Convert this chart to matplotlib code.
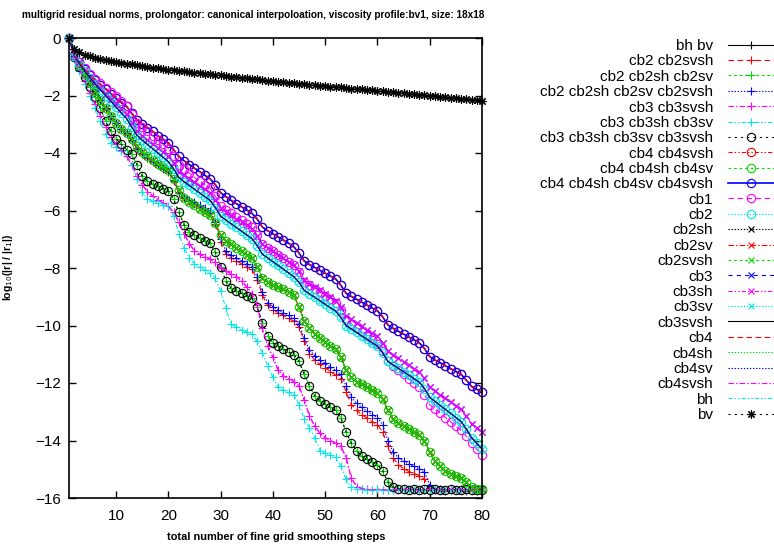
import matplotlib
matplotlib.use("Agg")
import matplotlib.pyplot as plt

plt.rcParams['font.family'] = ['Liberation Sans', 'DejaVu Sans']
plt.rcParams['lines.scale_dashes'] = False

# smoothing steps on the x axis
steps = list(range(1, 81))

# residual norm curves, log10(|r|/|r1|)
top_curve = [
    0.00, -0.38, -0.50, -0.58, -0.64, -0.69, -0.73, -0.77, -0.80, -0.83,
    -0.86, -0.89, -0.92, -0.95, -0.98, -1.00, -1.03, -1.05, -1.08, -1.10,
    -1.12, -1.14, -1.16, -1.18, -1.20, -1.22, -1.24, -1.26, -1.28, -1.30,
    -1.32, -1.34, -1.36, -1.38, -1.40, -1.42, -1.44, -1.46, -1.48, -1.50,
    -1.52, -1.53, -1.55, -1.57, -1.59, -1.60, -1.62, -1.64, -1.66, -1.67,
    -1.69, -1.71, -1.72, -1.74, -1.76, -1.77, -1.79, -1.81, -1.82, -1.84,
    -1.86, -1.87, -1.89, -1.91, -1.92, -1.94, -1.96, -1.97, -1.99, -2.01,
    -2.02, -2.04, -2.06, -2.07, -2.09, -2.11, -2.12, -2.14, -2.16, -2.18]

cb4_curve = [
    0.00, -0.60, -0.85, -1.08, -1.28, -1.45, -1.62, -1.78, -1.94, -2.10,
    -2.25, -2.38, -2.62, -2.85, -3.00, -3.12, -3.25, -3.40, -3.52, -3.65,
    -3.88, -4.12, -4.27, -4.40, -4.53, -4.65, -4.78, -4.90, -5.10, -5.38,
    -5.52, -5.65, -5.76, -5.87, -5.98, -6.10, -6.30, -6.58, -6.70, -6.81,
    -6.92, -7.03, -7.14, -7.26, -7.48, -7.76, -7.88, -7.98, -8.08, -8.18,
    -8.28, -8.38, -8.60, -8.88, -8.99, -9.09, -9.19, -9.29, -9.39, -9.49,
    -9.70, -9.98, -10.10, -10.20, -10.30, -10.40, -10.50, -10.60, -10.80, -11.08,
    -11.20, -11.30, -11.40, -11.50, -11.60, -11.70, -11.90, -12.12, -12.22, -12.32]

cb1_curve = [
    0.00, -0.58, -0.82, -1.04, -1.24, -1.42, -1.58, -1.74, -1.88, -2.02,
    -2.18, -2.35, -2.65, -2.95, -3.10, -3.25, -3.40, -3.55, -3.70, -3.85,
    -4.10, -4.40, -4.55, -4.70, -4.85, -4.98, -5.10, -5.22, -5.50, -5.85,
    -5.98, -6.10, -6.22, -6.34, -6.46, -6.58, -6.85, -7.18, -7.30, -7.42,
    -7.54, -7.66, -7.78, -7.90, -8.15, -8.48, -8.60, -8.72, -8.84, -8.96,
    -9.08, -9.20, -9.45, -9.80, -9.94, -10.08, -10.22, -10.36, -10.50, -10.64,
    -10.90, -11.25, -11.40, -11.55, -11.70, -11.85, -12.00, -12.15, -12.40, -12.75,
    -12.90, -13.05, -13.20, -13.35, -13.50, -13.65, -13.85, -14.10, -14.30, -14.50]

cb3_curve = [
    0.00, -0.62, -0.90, -1.15, -1.38, -1.60, -1.80, -2.00, -2.20, -2.40,
    -2.60, -2.80, -3.10, -3.38, -3.55, -3.70, -3.85, -4.00, -4.15, -4.30,
    -4.55, -4.85, -5.00, -5.13, -5.26, -5.39, -5.52, -5.65, -5.90, -6.20,
    -6.33, -6.46, -6.59, -6.72, -6.85, -6.98, -7.22, -7.52, -7.65, -7.78,
    -7.91, -8.04, -8.17, -8.30, -8.50, -8.78, -8.90, -9.02, -9.14, -9.26,
    -9.38, -9.50, -9.72, -10.00, -10.12, -10.24, -10.36, -10.48, -10.60, -10.72,
    -10.95, -11.25, -11.37, -11.49, -11.61, -11.73, -11.85, -11.97, -12.20, -12.50,
    -12.64, -12.78, -12.92, -13.06, -13.20, -13.34, -13.60, -13.90, -14.10, -14.30]

cb3_upper = [
    0.00, -0.60, -0.88, -1.12, -1.34, -1.55, -1.75, -1.94, -2.12, -2.30,
    -2.48, -2.66, -2.95, -3.25, -3.40, -3.54, -3.68, -3.82, -3.96, -4.10,
    -4.35, -4.65, -4.78, -4.90, -5.02, -5.14, -5.26, -5.38, -5.62, -5.92,
    -6.04, -6.16, -6.28, -6.40, -6.52, -6.64, -6.88, -7.18, -7.30, -7.42,
    -7.54, -7.66, -7.78, -7.90, -8.12, -8.42, -8.54, -8.66, -8.78, -8.90,
    -9.02, -9.14, -9.36, -9.66, -9.78, -9.90, -10.02, -10.14, -10.26, -10.38,
    -10.60, -10.90, -11.02, -11.14, -11.26, -11.38, -11.50, -11.62, -11.84, -12.14,
    -12.27, -12.40, -12.53, -12.66, -12.79, -12.92, -13.15, -13.42, -13.58, -13.72]

green_curve = [
    0.00, -0.62, -0.95, -1.25, -1.55, -1.85, -2.15, -2.45, -2.70, -2.95,
    -3.15, -3.30, -3.50, -3.75, -3.95, -4.10, -4.25, -4.38, -4.50, -4.60,
    -4.90, -5.30, -5.55, -5.70, -5.82, -5.94, -6.05, -6.15, -6.45, -6.85,
    -7.05, -7.18, -7.30, -7.42, -7.54, -7.66, -7.95, -8.35, -8.50, -8.58,
    -8.66, -8.74, -8.82, -8.95, -9.35, -9.85, -10.10, -10.30, -10.45, -10.58,
    -10.70, -10.82, -11.10, -11.55, -11.80, -11.95, -12.05, -12.15, -12.25, -12.35,
    -12.55, -12.95, -13.25, -13.40, -13.50, -13.60, -13.70, -13.80, -14.00, -14.40,
    -14.70, -14.90, -15.05, -15.15, -15.25, -15.32, -15.45, -15.62, -15.68, -15.70]

cb2_blue = [
    0.00, -0.62, -0.95, -1.25, -1.55, -1.85, -2.15, -2.45, -2.70, -2.95,
    -3.15, -3.32, -3.55, -3.82, -4.00, -4.15, -4.28, -4.40, -4.52, -4.62,
    -4.95, -5.35, -5.52, -5.62, -5.72, -5.82, -5.92, -6.02, -6.40, -7.00,
    -7.40, -7.55, -7.65, -7.75, -7.85, -7.95, -8.30, -8.85, -9.20, -9.35,
    -9.45, -9.55, -9.65, -9.75, -9.95, -10.45, -10.85, -11.05, -11.20, -11.32,
    -11.44, -11.56, -11.70, -12.10, -12.50, -12.70, -12.85, -12.98, -13.10, -13.20,
    -13.45, -14.00, -14.40, -14.60, -14.72, -14.82, -14.90, -14.98, -15.10, -15.55,
    -15.68, -15.70, -15.72, -15.69, -15.71, -15.70, -15.73, -15.70, -15.72, -15.71]

cb2_red = [
    0.00, -0.63, -0.96, -1.27, -1.57, -1.87, -2.17, -2.47, -2.72, -2.97,
    -3.17, -3.34, -3.58, -3.85, -4.03, -4.18, -4.31, -4.43, -4.55, -4.65,
    -4.98, -5.40, -5.58, -5.68, -5.78, -5.88, -5.98, -6.08, -6.48, -7.10,
    -7.50, -7.65, -7.75, -7.85, -7.95, -8.05, -8.40, -8.95, -9.30, -9.45,
    -9.55, -9.65, -9.75, -9.85, -10.05, -10.55, -10.98, -11.20, -11.35, -11.48,
    -11.60, -11.72, -11.85, -12.30, -12.75, -12.95, -13.10, -13.22, -13.35, -13.45,
    -13.70, -14.20, -14.60, -14.85, -14.98, -15.08, -15.15, -15.22, -15.35, -15.65,
    -15.70, -15.72, -15.74, -15.71, -15.73, -15.72, -15.75, -15.72, -15.74, -15.73]

circle_curve = [
    0.00, -0.65, -1.00, -1.35, -1.70, -2.05, -2.45, -2.90, -3.25, -3.50,
    -3.70, -3.88, -4.05, -4.40, -4.80, -4.98, -5.08, -5.16, -5.24, -5.32,
    -5.60, -6.05, -6.50, -6.75, -6.86, -6.96, -7.05, -7.14, -7.45, -7.95,
    -8.45, -8.70, -8.80, -8.88, -8.96, -9.04, -9.35, -9.90, -10.35, -10.60,
    -10.72, -10.82, -10.92, -11.02, -11.25, -11.70, -12.10, -12.45, -12.62, -12.74,
    -12.85, -12.95, -13.20, -13.70, -14.10, -14.35, -14.55, -14.65, -14.75, -14.85,
    -15.05, -15.45, -15.62, -15.68, -15.70, -15.72, -15.69, -15.71, -15.70, -15.72,
    -15.70, -15.71, -15.73, -15.70, -15.72, -15.71, -15.70, -15.72, -15.71, -15.73]

magenta_plus = [
    0.00, -0.70, -1.10, -1.50, -1.90, -2.30, -2.70, -3.10, -3.45, -3.70,
    -3.90, -4.10, -4.40, -4.80, -5.10, -5.35, -5.50, -5.62, -5.74, -5.85,
    -6.05, -6.40, -6.80, -7.15, -7.40, -7.52, -7.62, -7.70, -7.80, -8.00,
    -8.10, -8.20, -8.30, -8.45, -8.65, -8.90, -9.30, -10.10, -10.70, -11.10,
    -11.55, -11.75, -11.85, -11.95, -12.10, -12.60, -13.15, -13.50, -13.75, -13.90,
    -14.00, -14.10, -14.20, -14.60, -15.30, -15.60, -15.68, -15.70, -15.72, -15.70,
    -15.71, -15.73, -15.70, -15.72, -15.71, -15.70, -15.72, -15.73, -15.71, -15.70,
    -15.72, -15.71, -15.73, -15.70, -15.72, -15.71, -15.70, -15.72, -15.71, -15.73]

cyan_plus = [
    0.00, -0.70, -1.15, -1.60, -2.00, -2.45, -2.90, -3.35, -3.65, -3.80,
    -3.92, -4.05, -4.40, -4.90, -5.35, -5.60, -5.68, -5.74, -5.80, -5.86,
    -6.20, -6.80, -7.30, -7.65, -7.85, -7.98, -8.08, -8.18, -8.35, -8.80,
    -9.40, -9.95, -10.05, -10.15, -10.22, -10.30, -10.55, -10.95, -11.40, -11.80,
    -12.15, -12.25, -12.32, -12.40, -12.75, -13.25, -13.55, -13.90, -14.35, -14.45,
    -14.50, -14.58, -14.90, -15.35, -15.60, -15.68, -15.70, -15.72, -15.71, -15.70,
    -15.72, -15.71, -15.73, -15.70, -15.72, -15.71, -15.70, -15.72, -15.73, -15.71,
    -15.70, -15.72, -15.71, -15.73, -15.70, -15.72, -15.71, -15.70, -15.72, -15.71]

labels = ["bh bv", "cb2 cb2svsh", "cb2 cb2sh cb2sv", "cb2 cb2sh cb2sv cb2svsh",
          "cb3 cb3svsh", "cb3 cb3sh cb3sv", "cb3 cb3sh cb3sv cb3svsh",
          "cb4 cb4svsh", "cb4 cb4sh cb4sv", "cb4 cb4sh cb4sv cb4svsh",
          "cb1", "cb2", "cb2sh", "cb2sv", "cb2svsh", "cb3", "cb3sh", "cb3sv",
          "cb3svsh", "cb4", "cb4sh", "cb4sv", "cb4svsh", "bh", "bv"]

values = [top_curve, cb2_red, circle_curve, cb2_blue,
          magenta_plus, cyan_plus, circle_curve,
          cb4_curve, green_curve, cb4_curve,
          cb1_curve, cb3_curve, green_curve, green_curve, green_curve,
          cb3_upper, cb3_upper, cb3_curve,
          cb3_curve, cb4_curve, green_curve, cb3_curve, magenta_plus,
          top_curve, top_curve]

# gnuplot-like line styles
RED, GREEN, BLUE = '#ff0000', '#00e000', '#0000ff'
MAG, CYAN, BLACK = '#ff00ff', '#00e8e8', '#000000'
solid = '-'
dash = (0, (4, 2.5))
short = (0, (2, 2))
dot = (0, (1, 1.2))
dashdot = (0, (4, 1.5, 1, 1.5))
dashdotdot = (0, (3, 1.5, 1, 1.5, 1, 1.5))
sparse = (0, (1.5, 3))
spdash = (0, (3, 3))
star = (8, 2, 0)

styles = [
    (BLACK, solid, '+'), (RED, dash, '+'), (GREEN, short, '+'), (BLUE, dot, '+'),
    (MAG, dashdot, '+'), (CYAN, dashdotdot, '+'), (BLACK, sparse, 'o'),
    (RED, dashdotdot, 'o'), (GREEN, short, 'o'), (BLUE, solid, 'o'),
    (MAG, dash, 'o'), (CYAN, dot, 'o'), (BLACK, dot, 'x'), (RED, dashdot, 'x'),
    (GREEN, short, 'x'), (BLUE, spdash, 'x'), (MAG, dashdotdot, 'x'),
    (CYAN, dot, 'x'), (BLACK, solid, None), (RED, dash, None),
    (GREEN, dot, None), (BLUE, dot, None), (MAG, dashdot, None),
    (CYAN, dashdotdot, None), (BLACK, sparse, star)]

fig = plt.figure(figsize=(7.74, 5.46), dpi=100)
ax = fig.add_axes([69 / 774, 48 / 546, 413 / 774, 460 / 546])

handles = []
for lab, ys, (col, ls, mk) in zip(labels, values, styles):
    lw = 1.2 if lab == "cb4 cb4sh cb4sv cb4svsh" else 0.8
    ms = 5 if mk == 'x' else 6
    line, = ax.plot(steps, ys, color=col, linestyle=ls, lw=lw, marker=mk,
                    markersize=ms, markeredgewidth=0.8, markerfacecolor='none',
                    clip_on=False, label=lab)
    handles.append(line)

ax.set_xlim(1, 80)
ax.set_ylim(-16, 0)
ax.set_xticks(range(10, 81, 10))
ax.set_yticks(range(-16, 1, 2))
ax.tick_params(direction='in', top=True, right=True, length=5, width=1,
               labelsize=11, pad=6)
ax.tick_params(axis='x', pad=8)
for sp in ax.spines.values():
    sp.set_linewidth(1.2)

fig.text(22 / 774, 1 - 15 / 546,
         "multigrid residual norms, prolongator: canonical interpoloation, "
         "viscosity profile:bv1, size: 18x18",
         fontsize=7.2, weight='bold', va='center', ha='left')
fig.text(276 / 774, 1 - 537 / 546, "total number of fine grid smoothing steps",
         fontsize=7.9, weight='bold', va='center', ha='center')
fig.text(8 / 774, 1 - 267 / 546, r"log$_{10}$(|r| / |r$_1$|)",
         fontsize=7.6, weight='bold', va='center', ha='center', rotation=90)

fig.legend(handles, labels, loc='upper right', bbox_to_anchor=(1.0, 1 - 39 / 546),
           frameon=False, markerfirst=False, handlelength=3.0, handletextpad=1.0,
           labelspacing=0.09, fontsize=11, borderpad=0, borderaxespad=0,
           numpoints=1)

fig.savefig("out.png", dpi=100)
